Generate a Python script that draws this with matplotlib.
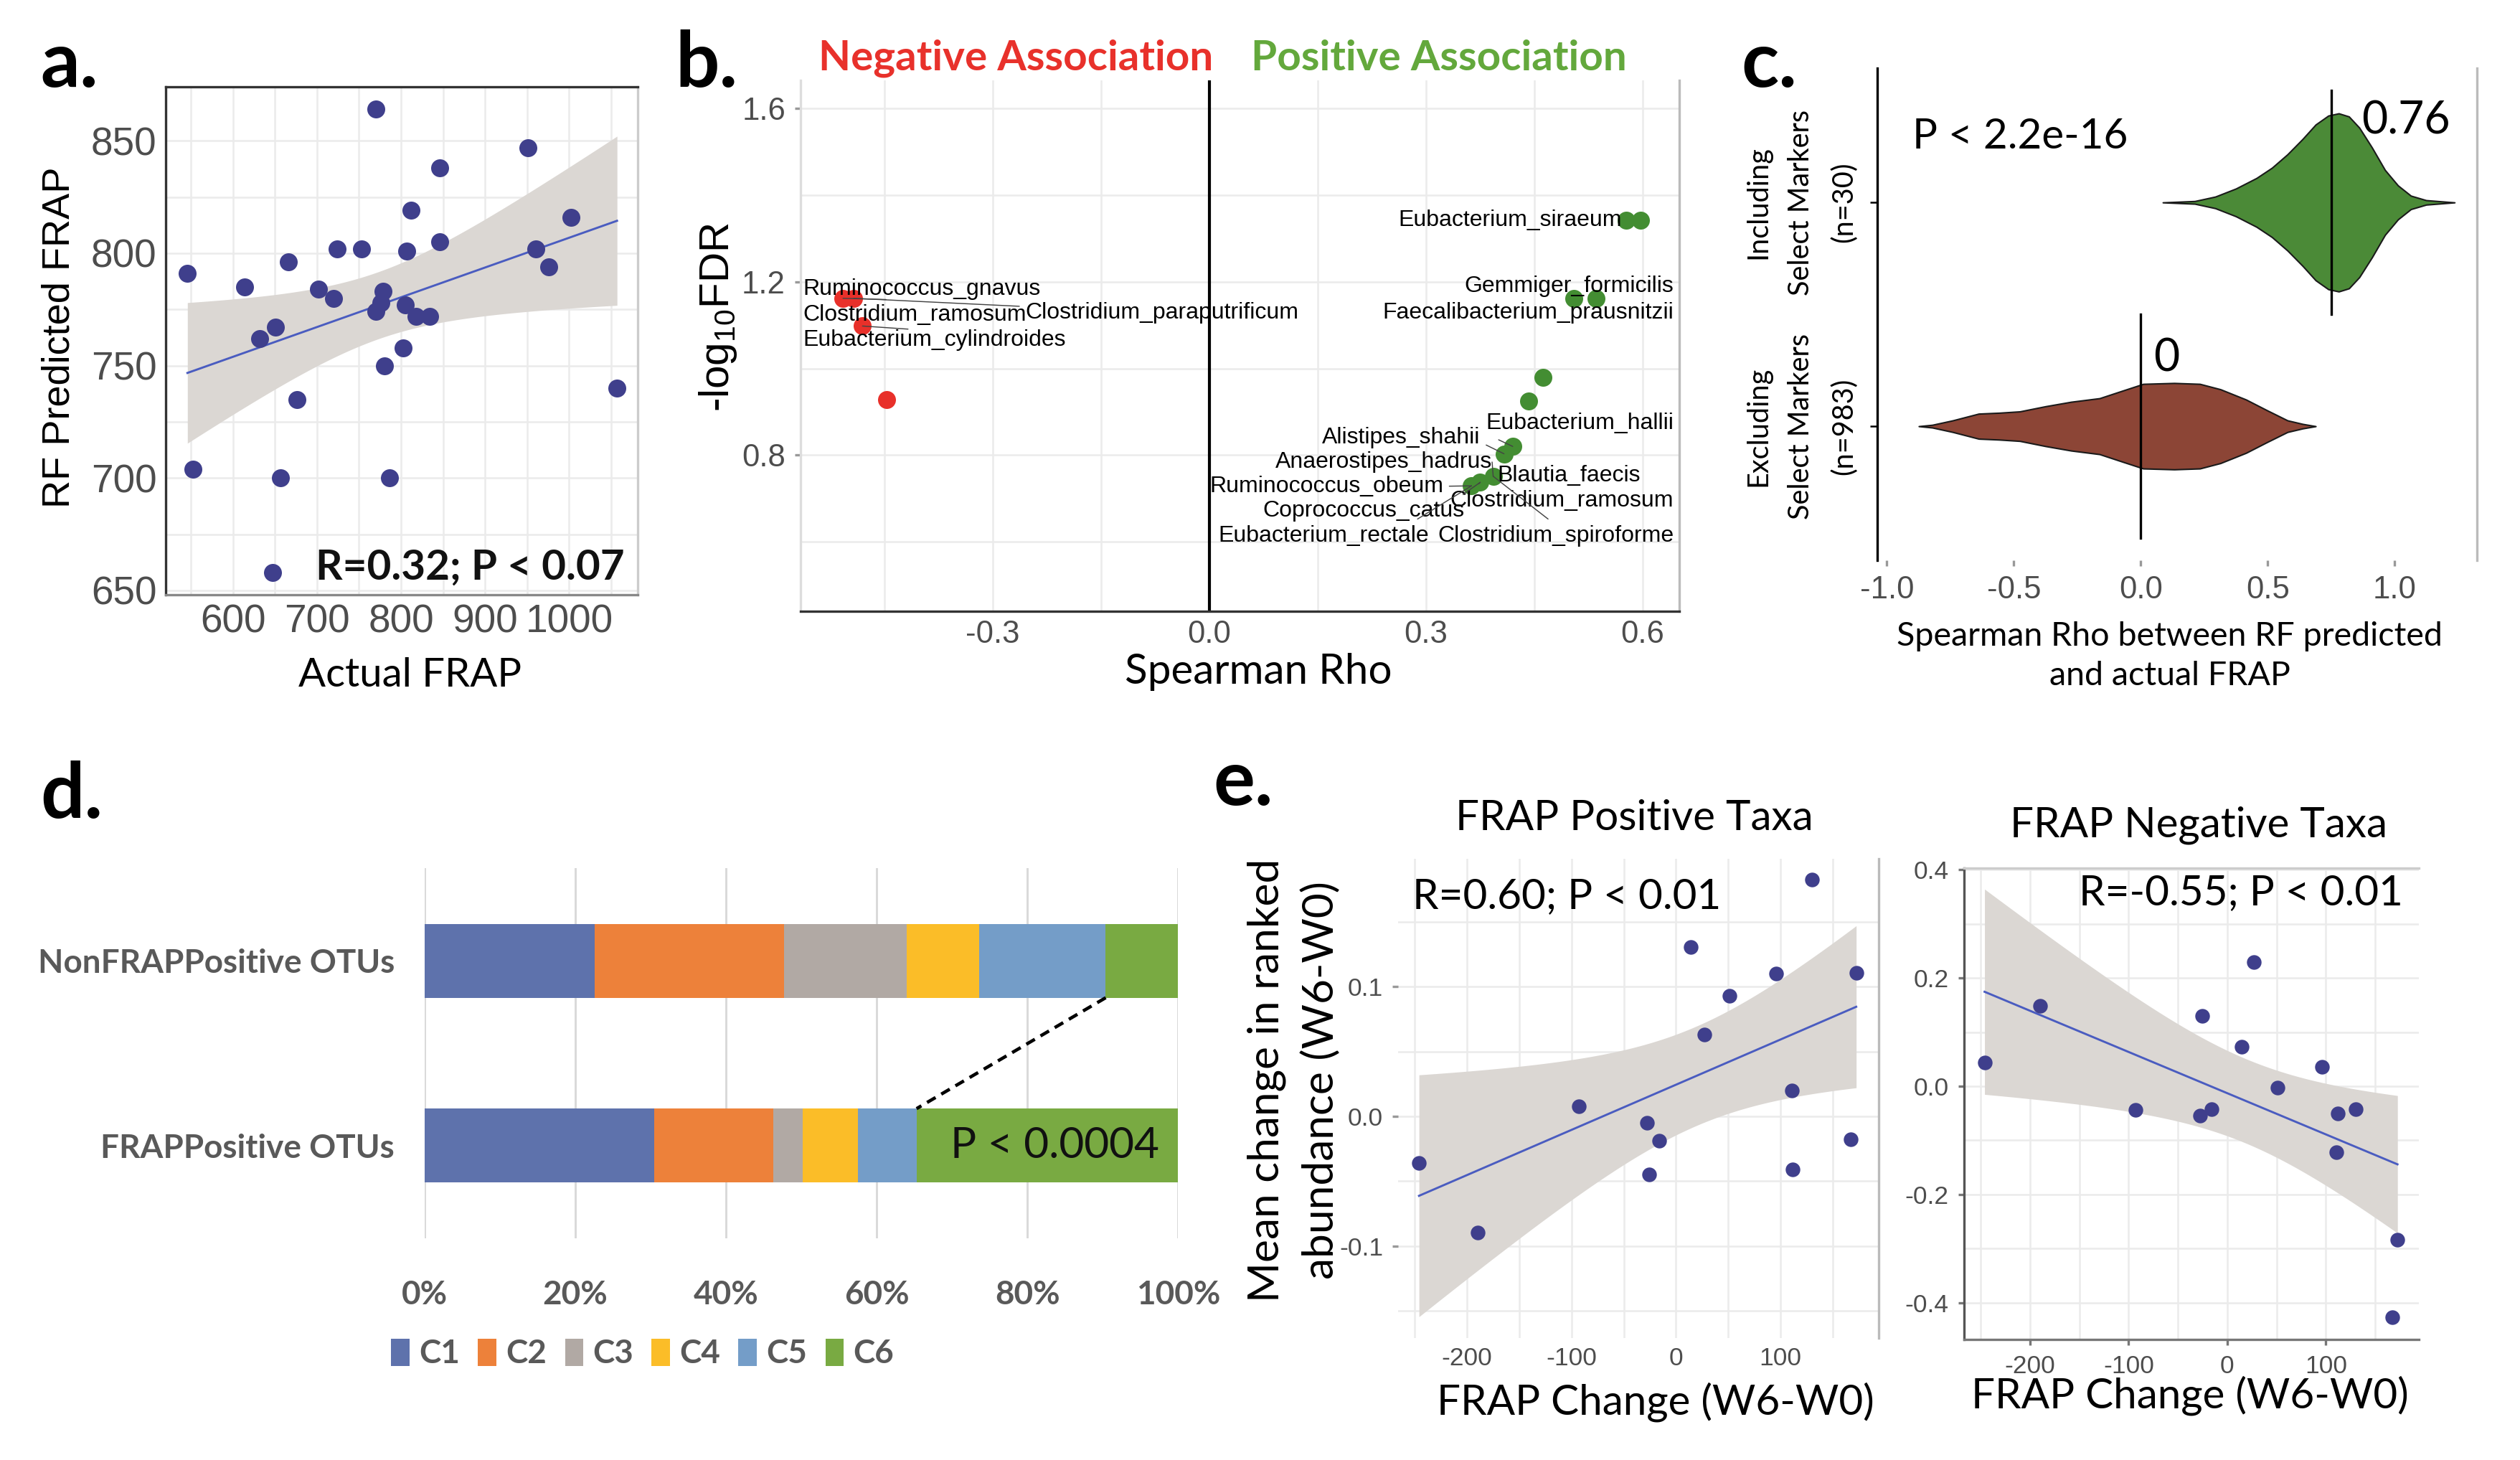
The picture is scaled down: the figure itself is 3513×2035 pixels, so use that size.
import numpy as np
import matplotlib
matplotlib.use("Agg")
import matplotlib.pyplot as plt
from matplotlib.ticker import MultipleLocator, FixedLocator

# ---------------- data ----------------
# a. random forest predicted vs actual FRAP
actual_frap = [546, 553, 614, 632, 651, 657, 647, 666, 676, 702, 720, 724, 753, 770,
               770, 776, 779, 780, 786, 803, 805, 807, 812, 818, 834, 846, 846, 951,
               960, 976, 1002, 1057]
predicted_frap = [791, 704, 785, 762, 767, 700, 658, 796, 735, 784, 780, 802, 802, 864,
                  774, 778, 783, 750, 700, 758, 777, 801, 819, 772, 772, 838, 805, 847,
                  802, 794, 816, 740]

# b. species association with FRAP
neg_rho = [-0.507, -0.492, -0.480, -0.447]
neg_fdr = [1.162, 1.162, 1.098, 0.928]
pos_rho = [0.5775, 0.597, 0.505, 0.535, 0.462, 0.442, 0.420, 0.408, 0.393, 0.375, 0.363]
pos_fdr = [1.343, 1.343, 1.162, 1.162, 0.979, 0.925, 0.820, 0.803, 0.751, 0.737, 0.729]
species_labels = ["Ruminococcus_gnavus", "Clostridium_ramosum", "Clostridium_paraputrificum",
                  "Eubacterium_cylindroides", "Eubacterium_siraeum", "Gemmiger_formicilis",
                  "Faecalibacterium_prausnitzii", "Eubacterium_hallii", "Alistipes_shahii",
                  "Anaerostipes_hadrus", "Blautia_faecis", "Ruminococcus_obeum",
                  "Clostridium_ramosum", "Coprococcus_catus", "Eubacterium_rectale",
                  "Clostridium_spiroforme"]

# c. violin outlines (rho, half width)
incl_rho = [0.087, 0.213, 0.294, 0.375, 0.456, 0.517, 0.578, 0.638, 0.689, 0.739, 0.780,
            0.820, 0.861, 0.911, 0.962, 1.013, 1.064, 1.124, 1.236]
incl_w = [0.0, 0.006, 0.026, 0.062, 0.109, 0.155, 0.215, 0.284, 0.348, 0.388, 0.398,
          0.384, 0.334, 0.245, 0.145, 0.076, 0.030, 0.010, 0.0]
excl_rho = [-0.874, -0.821, -0.740, -0.638, -0.557, -0.476, -0.375, -0.274, -0.162,
            -0.071, 0.010, 0.132, 0.233, 0.314, 0.415, 0.496, 0.578, 0.638, 0.689]
excl_w = [0.0, 0.006, 0.026, 0.056, 0.060, 0.066, 0.089, 0.109, 0.125, 0.159, 0.189,
          0.193, 0.189, 0.165, 0.119, 0.072, 0.026, 0.010, 0.0]
incl_median = 0.75
excl_median = 0.0

# d. cluster composition (%)
clusters = ["C1", "C2", "C3", "C4", "C5", "C6"]
frap_pos_share = [30.5, 15.8, 3.9, 7.3, 7.8, 34.7]
nonfrap_share = [22.6, 25.1, 16.3, 9.6, 16.8, 9.6]
otu_groups = ["FRAPPositive OTUs", "NonFRAPPositive OTUs"]

# e. change in ranked abundance vs FRAP change
frap_change = [-246, -190, -93, -27.5, -25.5, -16.3, 14.3, 26.9, 51.2, 95.8, 110.8,
               111.8, 130.5, 167, 172.5]
pos_taxa_change = [-0.036, -0.090, 0.008, -0.005, -0.045, -0.019, 0.131, 0.063, 0.093,
                   0.110, 0.020, -0.041, 0.183, -0.018, 0.111]
neg_taxa_change = [0.044, 0.149, -0.044, -0.054, 0.130, -0.043, 0.073, 0.230, -0.003,
                   0.036, -0.122, -0.050, -0.043, -0.427, -0.284]

# ---------------- style ----------------
GG = "Liberation Sans"
CAL = "Lato"
plt.rcParams["font.family"] = CAL
plt.rcParams["axes.unicode_minus"] = False
plt.rcParams["mathtext.fontset"] = "custom"
plt.rcParams["mathtext.rm"] = GG
plt.rcParams["mathtext.it"] = GG

DOT = "#3f3f8c"
LINE = "#4a5cc0"
BAND = "#dbd7d3"
GRID = "#ebebeb"
TICK = "#4d4d4d"


def t975(dof):
    z = 1.959964
    return (z + (z ** 3 + z) / (4 * dof)
            + (5 * z ** 5 + 16 * z ** 3 + 3 * z) / (96 * dof ** 2)
            + (3 * z ** 7 + 19 * z ** 5 + 17 * z ** 3 - 15 * z) / (384 * dof ** 3))


def lm_band(x, y, n=100):
    x = np.asarray(x, float)
    y = np.asarray(y, float)
    b, a = np.polyfit(x, y, 1)
    xs = np.linspace(x.min(), x.max(), n)
    fit = a + b * xs
    dof = len(x) - 2
    s = np.sqrt(np.sum((y - (a + b * x)) ** 2) / dof)
    se = s * np.sqrt(1 / len(x) + (xs - x.mean()) ** 2 / np.sum((x - x.mean()) ** 2))
    return xs, fit, fit - t975(dof) * se, fit + t975(dof) * se


def gg_ticks(ax, size):
    for lab in ax.get_xticklabels() + ax.get_yticklabels():
        lab.set_fontfamily(GG)
        lab.set_fontsize(size)
        lab.set_color(TICK)


def spines(ax, colors):
    for side, c in zip(["left", "right", "top", "bottom"], colors):
        if c is None:
            ax.spines[side].set_visible(False)
        else:
            ax.spines[side].set_color(c)
            ax.spines[side].set_linewidth(0.8)


def smooth_panel(ax, x, y, size=36):
    xs, fit, lo, hi = lm_band(x, y)
    ax.fill_between(xs, lo, hi, color=BAND, lw=0, zorder=1)
    ax.plot(xs, fit, color=LINE, lw=0.7, zorder=2)
    ax.scatter(x, y, s=size, color=DOT, lw=0, zorder=3)
    ax.grid(which="both", color=GRID, lw=0.6)
    ax.set_axisbelow(True)


fig = plt.figure(figsize=(3513 / 300, 2035 / 300), dpi=300)

# ---------------- a ----------------
ax = fig.add_axes([0.0657, 0.5925, 0.1875, 0.348])
smooth_panel(ax, actual_frap, predicted_frap)
ax.set_xlim(520, 1082)
ax.set_ylim(648, 874)
ax.xaxis.set_major_locator(MultipleLocator(100))
ax.xaxis.set_minor_locator(MultipleLocator(50))
ax.yaxis.set_major_locator(MultipleLocator(50))
ax.yaxis.set_minor_locator(MultipleLocator(25))
ax.tick_params(which="both", length=0, pad=3)
gg_ticks(ax, 13.2)
spines(ax, ["#333333", "#cccccc", "#333333", "#888888"])
ax.text(1066, 660, "R=0.32; P < 0.07", ha="right", va="center", fontsize=14,
        fontweight="bold", color="#111111")
fig.text(0.0236, 0.7687, "RF Predicted FRAP", rotation=90, ha="center", va="center",
         fontsize=13, family=GG)
fig.text(0.1626, 0.5374, "Actual FRAP", ha="center", va="center", fontsize=13.5)
fig.text(0.016, 0.956, "a.", ha="left", va="center", fontsize=26, fontweight="bold")

# ---------------- b ----------------
ax = fig.add_axes([0.3176, 0.5815, 0.3489, 0.3634])
ax.axvline(0, color="black", lw=1.0, zorder=2)
ax.scatter(neg_rho, neg_fdr, s=36, color="#e8302a", lw=0, zorder=3)
ax.scatter(pos_rho, pos_fdr, s=36, color="#438d32", lw=0, zorder=3)
all_rho = neg_rho + pos_rho
all_fdr = neg_fdr + pos_fdr
# label, x, y, ha, connected point, segment start on text box
label_pos = [(-0.5625, 1.184, "left", 0, (0.35, 0.0)),
             (-0.5625, 1.124, "left", None, None),
             (-0.2546, 1.128, "left", 1, (0.0, 0.8)),
             (-0.5625, 1.066, "left", 2, (0.4, 1.0)),
             (0.571, 1.342, "right", None, None),
             (0.643, 1.189, "right", None, None),
             (0.643, 1.128, "right", None, None),
             (0.643, 0.874, "right", 10, (0.0, 0.0)),
             (0.375, 0.840, "right", 11, (1.0, 0.3)),
             (0.3915, 0.784, "right", 12, (1.0, 0.5)),
             (0.3987, 0.7526, "left", None, None),
             (0.324, 0.728, "right", 14, (1.0, 0.5)),
             (0.643, 0.695, "right", 13, (0.1, 1.0)),
             (0.3535, 0.6705, "right", 13, (0.95, 1.0)),
             (0.304, 0.6137, "right", 14, (0.9, 1.0)),
             (0.643, 0.6137, "right", 12, (0.5, 1.0))]
for name, (lx, ly, ha, pt, rel) in zip(species_labels, label_pos):
    if pt is None:
        ax.text(lx, ly, name, ha=ha, va="center", fontsize=7.7, family=GG, zorder=4)
    else:
        ax.annotate(name, xy=(all_rho[pt], all_fdr[pt]), xytext=(lx, ly), ha=ha,
                    va="center", fontsize=7.7, family=GG, zorder=4,
                    arrowprops=dict(arrowstyle="-", color="#444444", lw=0.35,
                                    relpos=rel, shrinkA=0, shrinkB=0))
ax.set_xlim(-0.566, 0.651)
ax.set_ylim(0.44, 1.665)
ax.xaxis.set_major_locator(MultipleLocator(0.3))
ax.xaxis.set_minor_locator(MultipleLocator(0.15))
ax.yaxis.set_major_locator(FixedLocator([0.8, 1.2, 1.6]))
ax.yaxis.set_minor_locator(FixedLocator([0.6, 1.0, 1.4]))
ax.xaxis.set_major_formatter(lambda v, p: f"{v:.1f}")
ax.yaxis.set_major_formatter(lambda v, p: f"{v:.1f}")
ax.grid(which="both", color=GRID, lw=0.6)
ax.set_axisbelow(True)
ax.tick_params(which="both", length=0, pad=3)
ax.tick_params(axis="y", which="major", length=2, color="#999999")
gg_ticks(ax, 10.5)
spines(ax, ["#dddddd", "#bbbbbb", None, "#333333"])
fig.text(0.285, 0.783, r"-log$_{10}$FDR", rotation=90, ha="center", va="center",
         fontsize=14, family=GG)
fig.text(0.4994, 0.5396, "Spearman Rho", ha="center", va="center", fontsize=14)
fig.text(0.268, 0.956, "b.", ha="left", va="center", fontsize=26, fontweight="bold")
fig.text(0.403, 0.960, "Negative Association", ha="center", va="center", fontsize=14,
         fontweight="bold", color="#e8312b")
fig.text(0.571, 0.960, "Positive Association", ha="center", va="center", fontsize=14,
         fontweight="bold", color="#63a83c")

# ---------------- c ----------------
ax = fig.add_axes([0.7449, 0.6161, 0.2379, 0.3372])
ax.fill_between(incl_rho, 2 - np.array(incl_w), 2 + np.array(incl_w), color="#4b8a37",
                edgecolor="#1a1a1a", lw=0.5, zorder=2)
ax.fill_between(excl_rho, 1 - np.array(excl_w), 1 + np.array(excl_w), color="#8c4536",
                edgecolor="#1a1a1a", lw=0.5, zorder=2)
ax.plot([incl_median, incl_median], [1.5, 2.5], color="black", lw=0.8, zorder=3)
ax.plot([excl_median, excl_median], [0.5, 1.5], color="black", lw=0.8, zorder=3)
ax.text(-0.90, 2.294, "P < 2.2e-16", ha="left", va="center", fontsize=14)
ax.text(0.87, 2.364, f"{0.76:.2f}", ha="left", va="center", fontsize=15)
ax.text(0.05, 1.304, f"{excl_median:.0f}", ha="left", va="center", fontsize=15)
ax.set_xlim(-1.038, 1.323)
ax.set_ylim(0.4, 2.6)
ax.set_xticks([-1.0, -0.5, 0.0, 0.5, 1.0])
ax.xaxis.set_major_formatter(lambda v, p: f"{v:.1f}")
ax.set_yticks([1, 2], ["Excluding\nSelect Markers\n(n=983)",
                       "Including\nSelect Markers\n(n=30)"],
              rotation=90, va="center", ha="right", multialignment="center",
              fontsize=9.5, linespacing=1.75)
ax.tick_params(axis="y", length=2.5, width=0.6, pad=4)
ax.tick_params(axis="x", length=2, color="#999999", pad=3)
for lab in ax.get_xticklabels():
    lab.set_fontfamily(GG)
    lab.set_fontsize(10.5)
    lab.set_color(TICK)
spines(ax, ["black", "#bbbbbb", None, None])
fig.text(0.861, 0.5507, "Spearman Rho between RF predicted\nand actual FRAP", ha="center",
         va="center", fontsize=11.2, linespacing=1.4)
fig.text(0.691, 0.956, "c.", ha="left", va="center", fontsize=26, fontweight="bold")

# ---------------- d ----------------
colors_d = ["#5e72ac", "#ed813a", "#b1a9a4", "#fbbd28", "#749dc8", "#79aa42"]
ax = fig.add_axes([0.1684, 0.1520, 0.2991, 0.2533])
left = np.zeros(2)
for name, c, fp, nf in zip(clusters, colors_d, frap_pos_share, nonfrap_share):
    vals = np.array([fp, nf])
    ax.barh([0, 1], vals, left=left, height=0.4, color=c, label=name, zorder=2)
    left += vals
c6_frap = sum(frap_pos_share[:-1])
c6_non = sum(nonfrap_share[:-1])
ax.plot([c6_non, c6_frap], [0.8, 0.2], color="black", lw=1.1, ls=(0, (3, 2)), zorder=3)
ax.text((c6_frap + 100) / 2 + 1, 0, "P < 0.0004", ha="center", va="center", fontsize=14.5,
        color="#111111", zorder=4)
ax.set_xlim(0, 100)
ax.set_ylim(-0.5, 1.5)
ax.set_xticks(range(0, 101, 20), [f"{v}%" for v in range(0, 101, 20)])
ax.set_yticks([0, 1], otu_groups)
ax.grid(axis="x", color="#d9d9d9", lw=0.7)
ax.set_axisbelow(True)
ax.tick_params(length=0)
ax.tick_params(axis="x", pad=14)
ax.tick_params(axis="y", pad=10)
for lab in ax.get_xticklabels() + ax.get_yticklabels():
    lab.set_fontweight("bold")
    lab.set_fontsize(11)
    lab.set_color("#595959")
for s in ax.spines.values():
    s.set_visible(False)
fig.legend(*ax.get_legend_handles_labels(), loc="center", bbox_to_anchor=(0.255, 0.0727),
           ncol=6, frameon=False, handlelength=0.55, handleheight=0.9, columnspacing=0.55,
           handletextpad=0.3, prop={"weight": "bold", "size": 11}, labelcolor="#595959")
fig.text(0.016, 0.455, "d.", ha="left", va="center", fontsize=26, fontweight="bold")

# ---------------- e ----------------
ax = fig.add_axes([0.5548, 0.0837, 0.1907, 0.3282])
smooth_panel(ax, frap_change, pos_taxa_change, size=24)
ax.set_xlim(-266, 194)
ax.set_ylim(-0.171, 0.199)
ax.xaxis.set_major_locator(MultipleLocator(100))
ax.xaxis.set_minor_locator(MultipleLocator(50))
ax.yaxis.set_major_locator(MultipleLocator(0.1))
ax.yaxis.set_minor_locator(MultipleLocator(0.05))
ax.xaxis.set_major_formatter(lambda v, p: f"{v:.0f}")
ax.yaxis.set_major_formatter(lambda v, p: f"{v:.1f}")
ax.tick_params(which="both", length=0, pad=3)
ax.tick_params(axis="y", which="major", length=2, color="#999999")
gg_ticks(ax, 8.5)
spines(ax, [None, "#bbbbbb", None, None])
ax.text(-252, 0.170, "R=0.60; P < 0.01", ha="left", va="center", fontsize=14)
fig.text(0.6486, 0.4394, "FRAP Positive Taxa", ha="center", va="center", fontsize=14)
fig.text(0.657, 0.0396, "FRAP Change (W6-W0)", ha="center", va="center", fontsize=14)
fig.text(0.5025, 0.26, "Mean change in ranked", rotation=90, ha="center", va="center",
         fontsize=14.5)
fig.text(0.5243, 0.26, "abundance (W6-W0)", rotation=90, ha="center", va="center",
         fontsize=14.5)
fig.text(0.4815, 0.4637, "e.", ha="left", va="center", fontsize=26, fontweight="bold")

ax = fig.add_axes([0.7793, 0.0826, 0.1805, 0.3227])
smooth_panel(ax, frap_change, neg_taxa_change, size=24)
ax.set_xlim(-267, 194)
ax.set_ylim(-0.468, 0.403)
ax.xaxis.set_major_locator(MultipleLocator(100))
ax.xaxis.set_minor_locator(MultipleLocator(50))
ax.yaxis.set_major_locator(MultipleLocator(0.2))
ax.yaxis.set_minor_locator(MultipleLocator(0.1))
ax.xaxis.set_major_formatter(lambda v, p: f"{v:.0f}")
ax.yaxis.set_major_formatter(lambda v, p: f"{v:.1f}")
ax.tick_params(which="both", length=0, pad=3)
ax.tick_params(which="major", length=2, color="#777777")
gg_ticks(ax, 8.5)
spines(ax, ["#555555", None, "#cccccc", "#777777"])
ax.text(178, 0.357, "R=-0.55; P < 0.01", ha="right", va="center", fontsize=14)
fig.text(0.8724, 0.435, "FRAP Negative Taxa", ha="center", va="center", fontsize=14)
fig.text(0.869, 0.044, "FRAP Change (W6-W0)", ha="center", va="center", fontsize=14)

fig.savefig("out.png", dpi=300, facecolor="white")
